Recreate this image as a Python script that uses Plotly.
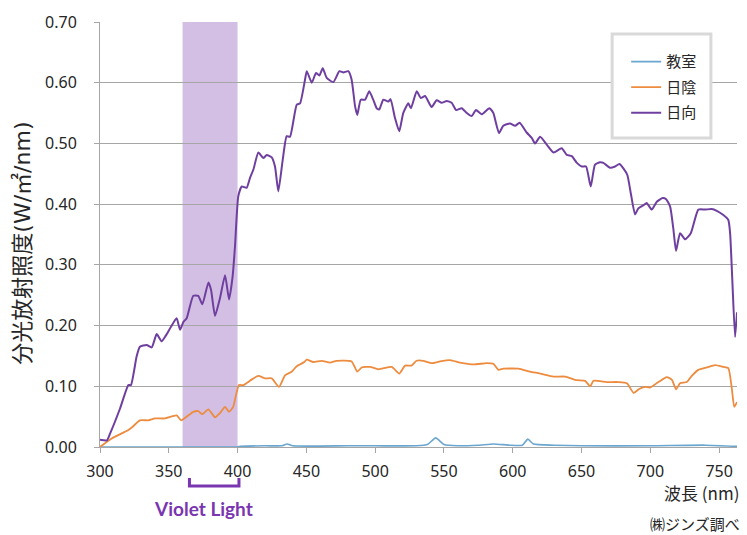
import plotly.graph_objects as go

# ---- data ----
sun_nm = [300, 305, 307.3, 314.5, 320.6, 322.5, 326.6, 329, 333.9, 337.6, 341.2, 344.8, 347.7,
          351.6, 355.7, 358.2, 360.6, 363, 367.8, 371.4, 374.4, 378.8, 380.7, 383.6, 387.2,
          390.9, 393.8, 396.4, 398.1, 400.5, 403, 406.6, 409, 411.5, 415.1, 418.7, 421.2,
          424.8, 427.2, 429.6, 432.8, 435.7, 438.1, 443, 445.4, 449, 450.3, 453.9, 457,
          459.5, 461.9, 464.8, 469.6, 474, 476.9, 480.5, 482.9, 485.4, 487, 489.5, 492.6,
          495.7, 498.6, 501.1, 503, 505.9, 509.5, 511.2, 514.4, 517.5, 520.4, 524.1, 526,
          530.2, 533.1, 536.3, 541, 544.7, 548.3, 552, 555.6, 558.8, 562.9, 566.6, 570.2,
          573.3, 577.4, 583, 585.9, 590, 593.1, 598, 601.7, 605, 610.1, 613.8, 616.2, 619.9,
          624.7, 629.6, 635.6, 639.3, 642.9, 646.6, 650.2, 653.3, 656.7, 659.8, 663.5, 665.9,
          670.7, 674.4, 677.5, 680.4, 683.3, 685.8, 688.9, 691.3, 696.2, 697.4, 701, 704.7,
          709, 711.5, 714.4, 716.7, 718.7, 721.6, 725.3, 729.4, 734.9, 739.8, 744.6, 748.3,
          753.1, 756.7, 758, 759.5, 761.6, 763]
sun_val = [0.012, 0.011, 0.022, 0.063, 0.102, 0.102, 0.149, 0.165, 0.168, 0.164, 0.186, 0.174, 0.183,
           0.198, 0.212, 0.193, 0.206, 0.212, 0.249, 0.249, 0.235, 0.271, 0.259, 0.216, 0.245,
           0.283, 0.243, 0.281, 0.330, 0.413, 0.429, 0.427, 0.443, 0.457, 0.485, 0.476, 0.481,
           0.477, 0.462, 0.421, 0.473, 0.512, 0.511, 0.564, 0.566, 0.605, 0.619, 0.600, 0.616,
           0.612, 0.624, 0.608, 0.601, 0.619, 0.617, 0.619, 0.605, 0.561, 0.547, 0.572, 0.572,
           0.586, 0.572, 0.558, 0.556, 0.572, 0.569, 0.573, 0.542, 0.520, 0.550, 0.566, 0.558,
           0.586, 0.575, 0.578, 0.560, 0.571, 0.567, 0.570, 0.567, 0.555, 0.558, 0.550, 0.545,
           0.555, 0.548, 0.558, 0.550, 0.517, 0.529, 0.533, 0.529, 0.534, 0.518, 0.509, 0.500, 0.511,
           0.498, 0.485, 0.492, 0.481, 0.479, 0.468, 0.462, 0.462, 0.429, 0.465, 0.469, 0.468,
           0.460, 0.462, 0.466, 0.459, 0.448, 0.418, 0.383, 0.393, 0.400, 0.402, 0.391, 0.404,
           0.410, 0.408, 0.396, 0.360, 0.323, 0.352, 0.342, 0.352, 0.391, 0.391, 0.392, 0.389,
           0.382, 0.374, 0.352, 0.280, 0.181, 0.222]

shade_nm = [300, 308.5, 320.6, 323.5, 329, 335.1, 340, 347.2, 355.7, 358.9, 367.8, 371.4, 374.4,
            378.8, 383.6, 387.2, 390.9, 393.8, 396.8, 398.6, 401, 404.2, 410.2, 415.1, 420,
            424.8, 430.1, 434.5, 439.3, 443, 448.5, 450.3, 455, 461.1, 467.2, 472, 482.9, 487,
            490.2, 496.3, 502.3, 512, 517.5, 521.7, 526.5, 530.1, 534.9, 541.1, 547.2, 554.4,
            561.7, 571.4, 581, 585.9, 589.6, 593.2, 604.1, 612.6, 619.9, 629.6, 638.1, 646.6,
            652.6, 656.3, 658.7, 668.4, 676.9, 683, 687.9, 691.5, 696.2, 699.8, 705.9, 712,
            715.6, 718.7, 721.6, 726.5, 730.1, 734.9, 741, 747.1, 753.1, 756.7, 759.1, 761, 763]
shade_val = [0.000, 0.014, 0.028, 0.033, 0.044, 0.044, 0.047, 0.047, 0.052, 0.044, 0.058, 0.059, 0.054,
             0.062, 0.049, 0.056, 0.066, 0.058, 0.066, 0.083, 0.102, 0.102, 0.111, 0.117, 0.113,
             0.113, 0.099, 0.118, 0.124, 0.133, 0.140, 0.144, 0.140, 0.142, 0.139, 0.142, 0.141, 0.124,
             0.131, 0.132, 0.128, 0.132, 0.121, 0.134, 0.134, 0.142, 0.142, 0.138, 0.141, 0.143,
             0.139, 0.136, 0.138, 0.137, 0.127, 0.129, 0.129, 0.124, 0.121, 0.116, 0.116, 0.110,
             0.109, 0.100, 0.109, 0.107, 0.107, 0.105, 0.089, 0.095, 0.099, 0.098, 0.107, 0.115,
             0.111, 0.095, 0.105, 0.107, 0.117, 0.127, 0.131, 0.135, 0.132, 0.130, 0.099, 0.066, 0.074]

room_nm = [300, 330, 360, 398, 402, 420, 432, 436, 440, 480, 500, 530, 538, 544, 550, 560, 575,
           586, 598, 607, 611, 615, 630, 650, 700, 740, 763]
room_val = [0.000, 0.000, 0.000, 0.000, 0.001, 0.002, 0.002, 0.005, 0.002, 0.002, 0.002, 0.002,
            0.004, 0.015, 0.004, 0.002, 0.003, 0.005, 0.003, 0.003, 0.013, 0.005, 0.003, 0.002,
            0.002, 0.003, 0.001]

series_names = ["教室", "日陰", "日向"]
series_colors = ["#6aa6cf", "#ed8b3f", "#6f3fa0"]

violet_range = [360, 400]
y_ticks = [0.0, 0.1, 0.2, 0.3, 0.4, 0.5, 0.6, 0.7]
x_ticks = [300, 350, 400, 450, 500, 550, 600, 650, 700, 750]

JP = "Noto Sans CJK JP"
TXT = "#262626"
GRID = "#a6a6a6"
VIOLET = "#7a35b0"

fig = go.Figure()
for i, (xs, ys) in enumerate([(room_nm, room_val), (shade_nm, shade_val), (sun_nm, sun_val)]):
    fig.add_trace(go.Scatter(
        x=xs, y=ys, mode="lines", name=series_names[i],
        line=dict(color=series_colors[i], width=[1.6, 1.8, 2.0][i], shape="spline", smoothing=0.5),
        legendgroup=series_names[i],
    ))

# violet light band
fig.add_shape(type="rect", xref="x", yref="y", x0=violet_range[0], x1=violet_range[1],
              y0=0, y1=0.705, fillcolor="#d3bfe3", line=dict(width=0), layer="below")

# legend frame (white box hiding grid lines behind the legend)
fig.add_shape(type="rect", xref="paper", yref="paper", x0=0.804, x1=0.959, y0=0.727, y1=0.972,
              fillcolor="white", line=dict(color="#d9d9d9", width=3), layer="above")

# bracket under the axis
fig.add_shape(type="path", xref="x", yref="paper",
              path=f"M {violet_range[0]+5},-0.073 L {violet_range[0]+5},-0.092 L {violet_range[1]+1},-0.092 L {violet_range[1]+1},-0.073",
              line=dict(color=VIOLET, width=3))

fig.add_annotation(x=(violet_range[0] + violet_range[1]) / 2 - 5, y=-0.145, xref="x", yref="paper",
                   text="<b>Violet Light</b>", showarrow=False,
                   font=dict(family="Lato", size=19, color=VIOLET), yanchor="middle")

fig.add_annotation(x=-0.123, y=0.48, xref="paper", yref="paper", text="分光放射照度(W/㎡/nm)",
                   textangle=-90, showarrow=False,
                   font=dict(family="DejaVu Sans, Noto Sans CJK JP", size=22, color=TXT),
                   xanchor="center", yanchor="middle")

fig.add_annotation(x=1.006, y=-0.106, xref="paper", yref="paper", text="波長 (nm)",
                   showarrow=False, font=dict(family=JP, size=17, color=TXT),
                   xanchor="right", yanchor="middle")

fig.add_annotation(x=1.006, y=-0.181, xref="paper", yref="paper", text="㈱ジンズ調べ",
                   showarrow=False, font=dict(family=JP, size=15, color=TXT), borderpad=0,
                   xanchor="right", yanchor="middle")

fig.update_layout(
    width=747, height=535,
    margin=dict(l=100, r=10, t=22, b=88),
    paper_bgcolor="white", plot_bgcolor="white",
    showlegend=True,
    legend=dict(x=0.826, y=0.945, xanchor="left", yanchor="top",
                borderwidth=0, bgcolor="rgba(0,0,0,0)",
                font=dict(family=JP, size=15, color=TXT),
                tracegroupgap=3, itemwidth=30, traceorder="grouped"),
    xaxis=dict(range=[300, 763], tickvals=x_ticks, ticktext=[str(v) for v in x_ticks],
               showgrid=False, zeroline=False, showline=True, linecolor=GRID, linewidth=1,
               ticks="outside", ticklen=5, tickcolor=GRID, ticklabelstandoff=5,
               tickfont=dict(family="Noto Sans", size=16, color=TXT)),
    yaxis=dict(range=[0, 0.7], tickvals=y_ticks, ticktext=[f"{v:.2f}" for v in y_ticks],
               showgrid=True, gridcolor=GRID, gridwidth=1, zeroline=False,
               showline=True, linecolor=GRID, linewidth=1,
               ticks="outside", ticklen=5, tickcolor=GRID, ticklabelstandoff=14,
               tickfont=dict(family="Noto Sans", size=16, color=TXT)),
)

fig.write_html("out.html", config={"displayModeBar": False},
               post_script="document.body.style.margin='0';document.body.style.overflow='hidden';")
